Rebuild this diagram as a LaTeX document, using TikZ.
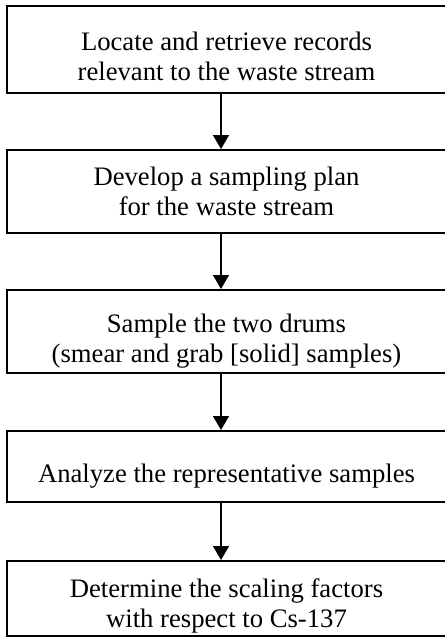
\documentclass[tikz,border=0pt]{standalone}
\usepackage{fontspec}
\setmainfont{Liberation Serif}
\usetikzlibrary{arrows.meta,calc}
\begin{document}
\begin{tikzpicture}[x=0.75pt,y=-0.75pt,
  box/.style={draw=black,line width=1.5pt,minimum width=330pt,inner sep=0pt},
  txt/.style={align=center,inner sep=0pt,font=\fontsize{20}{22}\selectfont},
  arr/.style={draw=black,line width=1.1pt,-{Triangle[length=10.5pt,width=12pt]}}]
\useasboundingbox (0,0) rectangle (444,637);
\node[box,minimum height=65.25pt] (b1) at (227,49.5) {};
\node[box,minimum height=62.25pt] (b2) at (227,191.5) {};
\node[box,minimum height=62.25pt] (b3) at (227,331.5) {};
\node[box,minimum height=53.25pt] (b4) at (227,466.5) {};
\node[box,minimum height=56.25pt] (b5) at (227,598.5) {};
\node[txt] (t1) at (226.5,56.5) {Locate and retrieve records\\relevant to the waste stream};
\node[txt] (t2) at (226.5,191.5) {Develop a sampling plan\\for the waste stream};
\node[txt] (t3) at (226.5,341) {Sample the two drums\\(smear and grab [solid] samples)};
\node[txt] (t4) at (226.5,476.5) {Analyze the representative samples};
\node[txt] (t5) at (226.5,606) {Determine the scaling factors\\with respect to Cs-137};
\coordinate (ax) at (221,0);
\draw[arr] (b1.south -| ax) -- (b2.north -| ax);
\draw[arr] (b2.south -| ax) -- (b3.north -| ax);
\draw[arr] (b3.south -| ax) -- (b4.north -| ax);
\draw[arr] (b4.south -| ax) -- (b5.north -| ax);
\end{tikzpicture}
\end{document}
